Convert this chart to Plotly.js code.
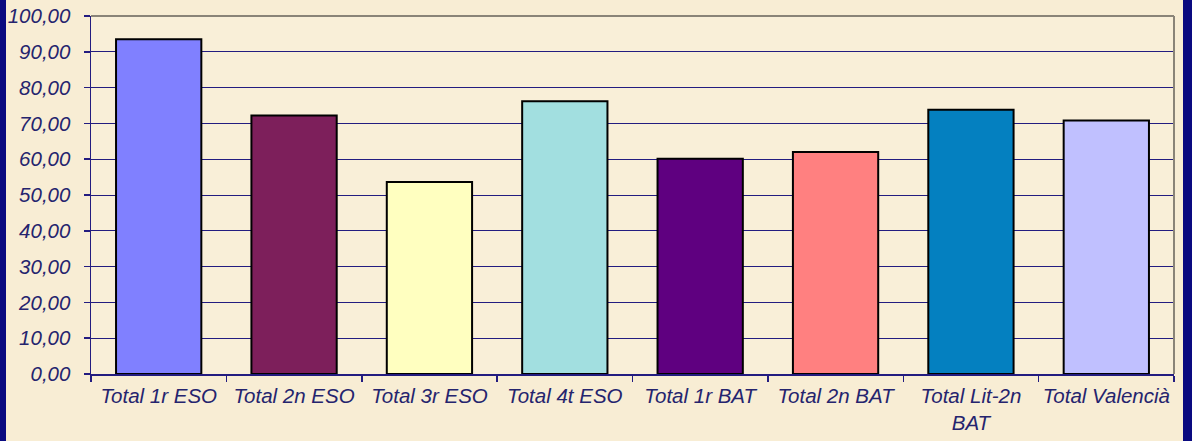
<!DOCTYPE html>
<html>
<head>
<meta charset="utf-8">
<script src="https://cdn.plot.ly/plotly-3.0.1.min.js"></script>
<style>
  html, body { margin: 0; padding: 0; background: #f8edd4; }
  #wrap { width: 1192px; height: 441px; box-sizing: border-box; border-left: 6px solid #0a0a80; border-right: 9px solid #0a0a80; overflow: hidden; }
  #chart { width: 1177px; height: 441px; }
</style>
</head>
<body>
<div id="wrap"><div id="chart"></div></div>
<script>
const categories = ["Total 1r ESO", "Total 2n ESO", "Total 3r ESO", "Total 4t ESO", "Total 1r BAT", "Total 2n BAT", "Total Lit-2n<br>BAT", "Total Valencià"];
const values = [93.5, 72.2, 53.6, 76.2, 60.1, 62.0, 73.8, 70.8];
const barColors = ["#8080ff", "#7d1f5b", "#ffffc0", "#a2dfe0", "#5f0080", "#ff8080", "#0480c0", "#c0c0ff"];
const yTicks = [0, 10, 20, 30, 40, 50, 60, 70, 80, 90, 100];
const yTickLabels = ["0,00", "10,00", "20,00", "30,00", "40,00", "50,00", "60,00", "70,00", "80,00", "90,00", "100,00"];

const navy = "#231c80";
const tickFont = { family: "Liberation Sans, Arial, sans-serif", size: 20.5, color: "#25246e", style: "italic" };

const trace = {
  type: "bar",
  x: categories,
  y: values,
  marker: { color: barColors, line: { color: "#000000", width: 2 } },
  hoverinfo: "x+y"
};

const layout = {
  width: 1177,
  height: 441,
  margin: { l: 85, r: 9, t: 16, b: 67 },
  paper_bgcolor: "#f8edd4",
  plot_bgcolor: "#f9efd8",
  bargap: 0.37,
  showlegend: false,
  font: tickFont,
  xaxis: {
    type: "category",
    tickson: "boundaries",
    tickangle: 0,
    ticks: "outside",
    ticklen: 6,
    tickcolor: navy,
    tickwidth: 1.5,
    showline: true,
    linecolor: navy,
    linewidth: 1.5,
    showgrid: false,
    tickfont: tickFont,
    ticklabelstandoff: 3
  },
  yaxis: {
    range: [0, 100],
    tickvals: yTicks,
    ticktext: yTickLabels,
    ticks: "outside",
    ticklen: 6,
    tickcolor: navy,
    tickwidth: 1.5,
    showline: true,
    linecolor: navy,
    linewidth: 1.5,
    showgrid: true,
    gridcolor: navy,
    gridwidth: 1,
    zeroline: false,
    tickfont: tickFont,
    ticklabelstandoff: 9
  },
  shapes: [
    { type: "line", xref: "paper", yref: "paper", x0: 0, x1: 1, y0: 1, y1: 1, line: { color: "#8a8478", width: 2 } },
    { type: "line", xref: "paper", yref: "paper", x0: 1, x1: 1, y0: 0, y1: 1, line: { color: "#8a8478", width: 2 } }
  ]
};

Plotly.newPlot("chart", [trace], layout, { displayModeBar: false, staticPlot: true });
</script>
</body>
</html>
